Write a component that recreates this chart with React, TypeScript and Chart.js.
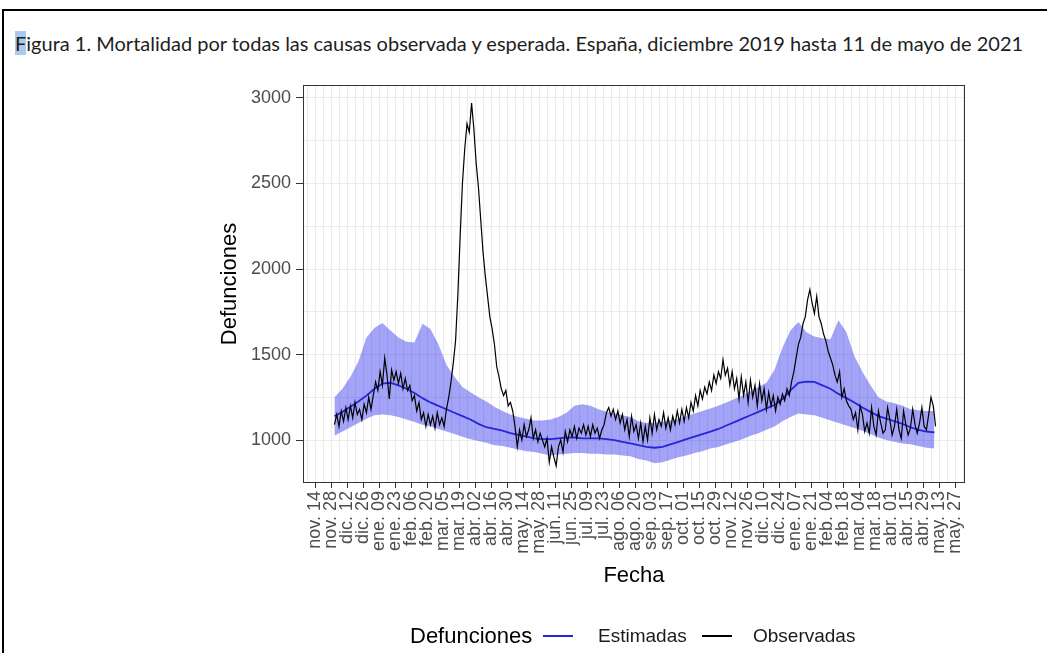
import React, { useEffect, useRef } from "react";
import { Chart, registerables } from "chart.js";

Chart.register(...registerables);

const TITLE_FIRST = "F";
const TITLE_REST =
  "igura 1. Mortalidad por todas las causas observada y esperada. España, diciembre 2019 hasta 11 de mayo de 2021";
const X_AXIS_TITLE = "Fecha";
const Y_AXIS_TITLE = "Defunciones";
const LEGEND_TITLE = "Defunciones";
const SERIES_NAMES = ["Estimadas", "Observadas"];

// x axis: day 0 = 14 Nov 2019; a labelled tick every 14 days
const tickLabels = [
  "nov. 14", "nov. 28", "dic. 12", "dic. 26", "ene. 09", "ene. 23", "feb. 06", "feb. 20",
  "mar. 05", "mar. 19", "abr. 02", "abr. 16", "abr. 30", "may. 14", "may. 28", "jun. 11",
  "jun. 25", "jul. 09", "jul. 23", "ago. 06", "ago. 20", "sep. 03", "sep. 17", "oct. 01",
  "oct. 15", "oct. 29", "nov. 12", "nov. 26", "dic. 10", "dic. 24", "ene. 07", "ene. 21",
  "feb. 04", "feb. 18", "mar. 04", "mar. 18", "abr. 01", "abr. 15", "abr. 29", "may. 13",
  "may. 27",
];
const yTickValues = [1000, 1500, 2000, 2500, 3000];

// observed deaths, every 2 days from 1 Dec 2019 (day 17)
const OBS_FIRST_DAY = 17;
const OBS_STEP_DAYS = 2;
const observed = [
  1090, 1150, 1080, 1170, 1110, 1190, 1120, 1200, 1130, 1220,
  1150, 1180, 1120, 1210, 1160, 1250, 1180, 1260, 1340, 1290,
  1400, 1320, 1480, 1380, 1240, 1410, 1350, 1400, 1330, 1390,
  1300, 1360, 1290, 1320, 1230, 1260, 1170, 1220, 1120, 1160,
  1080, 1150, 1090, 1140, 1070, 1160, 1090, 1130, 1080, 1180,
  1250, 1340, 1450, 1580, 1850, 2190, 2500, 2700, 2850, 2800,
  2970, 2820, 2620, 2480, 2290, 2100, 1960, 1840, 1720, 1650,
  1560, 1430, 1370, 1300, 1260, 1290, 1200, 1220, 1170,
  1080, 960, 1060, 1000, 1090, 1020, 1060, 1130, 1010, 1060,
  990, 1040, 1000, 960, 1010, 870, 960, 900, 850, 960,
  1000, 930, 1050, 990, 1060, 1020, 1080, 1010, 1070, 1040,
  1090, 1030, 1080, 1020, 1090, 1040, 1070, 1010, 1060, 1090,
  1160, 1190, 1140, 1180, 1120, 1170, 1100, 1150, 1060, 1120,
  1020, 1140, 1050, 1090, 1010,
  1100, 990, 1080, 1000, 1130, 1040, 1150, 1060, 1120, 1080,
  1160, 1070, 1130, 1060, 1140, 1090, 1170, 1100, 1180, 1110,
  1190, 1130, 1220, 1170, 1260, 1200, 1290, 1240, 1310, 1270,
  1340, 1290, 1380, 1330, 1400, 1360, 1470, 1380, 1420, 1320,
  1400, 1300, 1360, 1240, 1370, 1260, 1340, 1220, 1350, 1250,
  1320, 1200, 1330, 1230, 1300, 1180, 1280, 1200, 1260, 1170,
  1250, 1210, 1270, 1230, 1300, 1260,
  1340, 1400, 1480, 1560, 1600, 1680, 1720, 1820, 1880, 1800,
  1740, 1840, 1720, 1680, 1620, 1580, 1520, 1480, 1440, 1380,
  1340, 1400, 1250, 1300, 1230, 1200,
  1180, 1120, 1160, 1060, 1200, 1150, 1050, 1100, 1040, 1190,
  1080, 1030, 1170, 1100, 1040, 1060, 1190, 1120, 1030, 1080,
  1180, 1060, 1010, 1170, 1090, 1030, 1070, 1180, 1090, 1040,
  1100, 1190, 1080, 1060, 1150, 1250, 1200, 1080,
];

// expected deaths and band, weekly from 1 Dec 2019 (day 17)
const BAND_FIRST_DAY = 17;
const BAND_STEP_DAYS = 7;
const estimated = [
  1140, 1165, 1195, 1225, 1260, 1300, 1330, 1335, 1320, 1300,
  1275, 1245, 1220, 1200, 1180, 1160, 1140, 1120, 1095, 1075,
  1065, 1055, 1040, 1030, 1020, 1010, 1005, 1005, 1010, 1015,
  1015, 1010, 1010, 1010, 1005, 1000, 990, 980, 970, 960,
  955, 960, 975, 990, 1005, 1020, 1035, 1050, 1065, 1085,
  1105, 1125, 1145, 1165, 1185, 1205, 1240, 1290, 1335, 1342,
  1340, 1320, 1300, 1270, 1245, 1220, 1190, 1165, 1140, 1125,
  1110, 1095, 1075, 1060, 1050, 1045,
];
const upper = [
  1250, 1300, 1370, 1460, 1600, 1655, 1685, 1640, 1600, 1575,
  1570, 1680, 1650, 1560, 1440, 1370, 1310, 1280, 1250, 1225,
  1195, 1170, 1150, 1135, 1125, 1115, 1115, 1120, 1135, 1160,
  1200, 1210, 1200, 1180, 1165, 1155, 1145, 1135, 1110, 1100,
  1100, 1105, 1115, 1125, 1140, 1155, 1170, 1185, 1200, 1220,
  1240, 1260, 1285, 1310, 1335, 1410, 1540, 1640, 1690, 1630,
  1605, 1595, 1590, 1700, 1630, 1490, 1400, 1320, 1250, 1225,
  1215, 1200, 1180, 1175, 1170, 1170,
];
const lower = [
  1025, 1050, 1075, 1100, 1125, 1145, 1150, 1145, 1135, 1120,
  1105, 1090, 1080, 1065, 1050, 1035, 1020, 1005, 995, 985,
  970, 965, 955, 945, 935, 930, 920, 910, 915, 920,
  925, 925, 920, 920, 915, 915, 910, 905, 890, 880,
  865, 870, 885, 900, 910, 925, 935, 950, 960, 975,
  990, 1005, 1025, 1040, 1060, 1080, 1110, 1135, 1155, 1150,
  1145, 1130, 1115, 1100, 1085, 1070, 1055, 1035, 1015, 1000,
  990, 980, 975, 965, 955, 950,
];

const BLUE = "#2626d8";
const BAND = "rgba(0,0,235,0.36)";
const FONT = "'Liberation Sans', Arial, sans-serif";

const toPoints = (vals: number[], first: number, step: number) =>
  vals.map((v, i) => ({ x: first + step * i, y: v }));

const xLabel = (v: number) => {
  if (v >= 0 && v % 14 === 0) {
    const i = v / 14;
    return i < tickLabels.length ? tickLabels[i] : "";
  }
  return "";
};

const panelBorder = {
  id: "panelBorder",
  afterDraw(chart: any) {
    const { ctx, chartArea } = chart;
    const { left, top, right, bottom } = chartArea;
    ctx.save();
    ctx.strokeStyle = "#333333";
    ctx.lineWidth = 1;
    ctx.strokeRect(left + 0.5, top + 0.5, right - left - 1, bottom - top - 1);
    ctx.restore();
  },
};

export default function App() {
  const canvasRef = useRef<HTMLCanvasElement | null>(null);

  useEffect(() => {
    if (!canvasRef.current) return;
    Chart.defaults.font.family = FONT;
    const chart = new Chart(canvasRef.current, {
      type: "line",
      data: {
        datasets: [
          {
            label: SERIES_NAMES[1],
            data: toPoints(observed, OBS_FIRST_DAY, OBS_STEP_DAYS),
            borderColor: "#000000",
            borderWidth: 1.2,
            pointRadius: 0,
            fill: false,
            order: 0,
          },
          {
            label: SERIES_NAMES[0],
            data: toPoints(estimated, BAND_FIRST_DAY, BAND_STEP_DAYS),
            borderColor: BLUE,
            borderWidth: 1.8,
            pointRadius: 0,
            fill: false,
            order: 1,
          },
          {
            label: "upper",
            data: toPoints(upper, BAND_FIRST_DAY, BAND_STEP_DAYS),
            borderWidth: 0,
            borderColor: "rgba(0,0,0,0)",
            backgroundColor: BAND,
            pointRadius: 0,
            fill: "+1",
            order: 2,
          },
          {
            label: "lower",
            data: toPoints(lower, BAND_FIRST_DAY, BAND_STEP_DAYS),
            borderWidth: 0,
            borderColor: "rgba(0,0,0,0)",
            pointRadius: 0,
            fill: false,
            order: 3,
          },
        ],
      },
      options: {
        animation: false,
        responsive: false,
        maintainAspectRatio: false,
        layout: { padding: { left: 214, top: 85, right: 82, bottom: 60 } },
        plugins: {
          legend: { display: false },
          tooltip: { enabled: false },
          title: { display: false },
        },
        scales: {
          x: {
            type: "linear",
            min: -10.5,
            max: 568.75,
            afterBuildTicks: (s: any) => {
              const t: any[] = [];
              for (let d = -7; d <= 567; d += 7) t.push({ value: d });
              s.ticks = t;
            },
            afterFit: (s: any) => {
              s.height = 110;
            },
            ticks: {
              autoSkip: false,
              minRotation: 90,
              maxRotation: 90,
              padding: 3,
              color: "#4d4d4d",
              font: { size: 18, family: FONT },
              callback: (v: any) => xLabel(Number(v)),
            },
            grid: {
              color: "#ebebeb",
              lineWidth: 1,
              tickLength: 5,
              tickColor: (c: any) =>
                c.tick && c.tick.value >= 0 && c.tick.value % 14 === 0 ? "#333333" : "rgba(0,0,0,0)",
            },
            border: { display: false },
            title: {
              display: true,
              text: X_AXIS_TITLE,
              color: "#000000",
              font: { size: 22, family: FONT },
              padding: { top: 0, bottom: 4 },
            },
          },
          y: {
            type: "linear",
            min: 749,
            max: 3076,
            afterBuildTicks: (s: any) => {
              const t: any[] = [];
              for (let v = 750; v <= 3000; v += 250) t.push({ value: v });
              s.ticks = t;
            },
            afterFit: (s: any) => {
              s.width = 89;
            },
            ticks: {
              autoSkip: false,
              padding: 5,
              color: "#4d4d4d",
              font: { size: 18, family: FONT },
              callback: (v: any) => (yTickValues.includes(Number(v)) ? String(v) : ""),
            },
            grid: {
              color: "#ebebeb",
              lineWidth: 1,
              tickLength: 7,
              tickColor: (c: any) =>
                c.tick && yTickValues.includes(c.tick.value) ? "#333333" : "rgba(0,0,0,0)",
            },
            border: { display: false },
            title: {
              display: true,
              text: Y_AXIS_TITLE,
              color: "#000000",
              font: { size: 22, family: FONT },
              padding: { top: 3, bottom: 0 },
            },
          },
        },
      },
      plugins: [panelBorder],
    } as any);
    return () => chart.destroy();
  }, []);

  const legendText: React.CSSProperties = {
    position: "absolute",
    top: 623,
    lineHeight: "26px",
    fontFamily: FONT,
    whiteSpace: "nowrap",
    color: "#1a1a1a",
  };

  return (
    <div
      style={{
        position: "absolute",
        left: 0,
        top: 0,
        width: 1047,
        height: 653,
        background: "#ffffff",
        overflow: "hidden",
      }}
    >
      <div
        style={{
          position: "absolute",
          left: 2,
          top: 9,
          width: 1045,
          height: 644,
          borderLeft: "2px solid #000",
          borderTop: "2px solid #000",
          boxSizing: "border-box",
        }}
      />
      <div
        style={{
          position: "absolute",
          left: 15,
          top: 32,
          lineHeight: "22px",
          fontFamily: "Lato, 'Open Sans', sans-serif",
          fontSize: 20,
          color: "#1e1e1e",
          whiteSpace: "nowrap",
        }}
      >
        <span style={{ background: "#a9c9ee" }}>{TITLE_FIRST}</span>
        {TITLE_REST}
      </div>
      <canvas
        ref={canvasRef}
        width={1047}
        height={653}
        style={{ position: "absolute", left: 0, top: 0, width: 1047, height: 653 }}
      />
      <div style={{ ...legendText, left: 410, fontSize: 22, color: "#000" }}>{LEGEND_TITLE}</div>
      <div style={{ position: "absolute", left: 543, top: 635, width: 30, height: 2, background: BLUE }} />
      <div style={{ ...legendText, left: 598, fontSize: 19 }}>{SERIES_NAMES[0]}</div>
      <div style={{ position: "absolute", left: 702, top: 635, width: 30, height: 2, background: "#000" }} />
      <div style={{ ...legendText, left: 753, fontSize: 19 }}>{SERIES_NAMES[1]}</div>
    </div>
  );
}
